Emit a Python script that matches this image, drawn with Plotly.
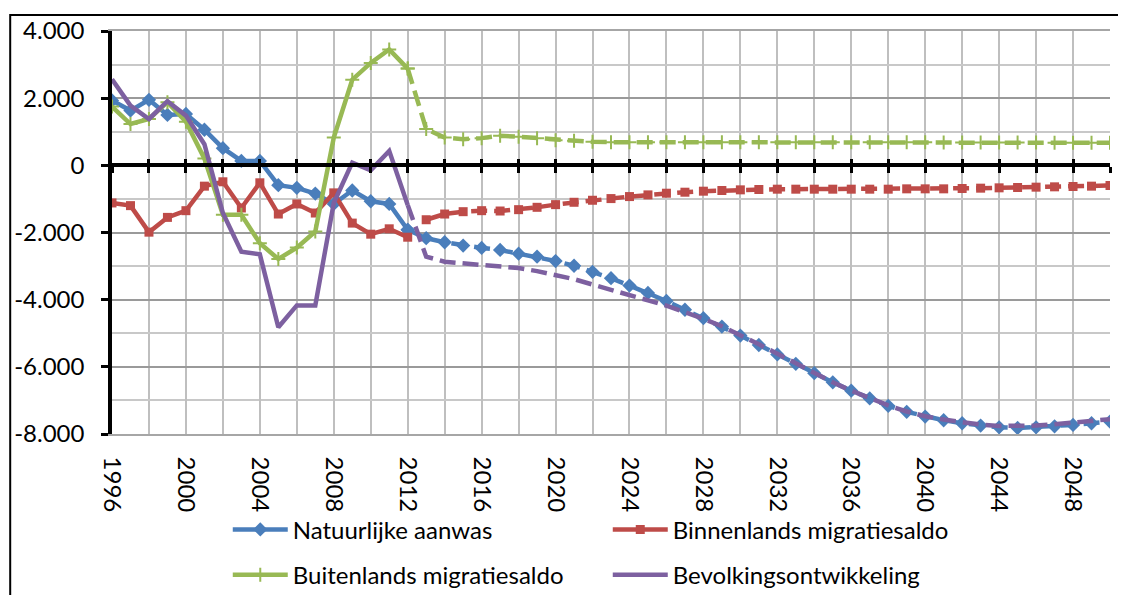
import plotly.graph_objects as go

# ---------------- data ----------------
hist_years = list(range(1996, 2013))
proj_years = list(range(2012, 2051))

natuurlijk_hist = [1930, 1630, 1950, 1500, 1530, 1060, 510, 130, 130, -590, -670, -840,
                   -1150, -750, -1070, -1150, -1920]
binnen_hist = [-1120, -1200, -1990, -1550, -1350, -620, -490, -1270, -520, -1450, -1150,
               -1420, -820, -1720, -2050, -1890, -2140]
buiten_hist = [1750, 1230, 1380, 1880, 1300, 200, -1470, -1470, -2320, -2790, -2450,
               -1970, 830, 2550, 3050, 3450, 2880]
bevolking_hist = [2560, 1780, 1380, 1910, 1480, 630, -1420, -2570, -2650, -4820, -4170,
                  -4170, -1120, 80, -150, 430, -1180]

natuurlijk_proj = [-1920, -2170, -2290, -2390, -2460, -2520, -2630, -2720, -2850, -2990,
                   -3170, -3360, -3580, -3800, -4040, -4300, -4550, -4800, -5070, -5350,
                   -5630, -5910, -6190, -6460, -6710, -6940, -7160, -7340, -7480, -7590,
                   -7680, -7750, -7800, -7820, -7800, -7770, -7730, -7680, -7630]
binnen_proj = [None, -1620, -1450, -1380, -1350, -1360, -1320, -1250, -1170, -1100,
               -1040, -990, -930, -880, -830, -800, -770, -750, -730, -720,
               -710, -710, -710, -710, -710, -710, -710, -700, -700, -700,
               -690, -680, -670, -660, -650, -640, -630, -620, -600]
buiten_proj = [2880, 1080, 830, 780, 810, 880, 850, 810, 750, 730,
               700, 690, 690, 690, 690, 690, 690, 690, 690, 690,
               690, 690, 690, 690, 690, 690, 690, 690, 690, 680,
               680, 680, 680, 680, 680, 670, 670, 670, 670]
bevolking_proj = [-1180, -2720, -2870, -2920, -2960, -3000, -3060, -3150, -3260, -3390,
                  -3550, -3700, -3840, -4020, -4180, -4370, -4570, -4790, -5050, -5330,
                  -5610, -5900, -6190, -6460, -6710, -6940, -7150, -7330, -7470, -7570,
                  -7650, -7720, -7760, -7770, -7750, -7710, -7660, -7600, -7560]

series_names = ["Natuurlijke aanwas", "Binnenlands migratiesaldo",
                "Buitenlands migratiesaldo", "Bevolkingsontwikkeling"]
x_tick_years = list(range(1996, 2050, 4))
y_tick_vals = [4000, 2000, 0, -2000, -4000, -6000, -8000]
y_tick_text = ["4.000", "2.000", "0", "-2.000", "-4.000", "-6.000", "-8.000"]

# ---------------- styling ----------------
BLUE = "#4A7EBB"
RED = "#BE4B48"
GREEN = "#98B954"
PURPLE = "#7D60A0"
FONT = "Lato"
FS = 24
LW = 4.5
DASH = "16px,7px"

fig = go.Figure()

specs = [
    (series_names[0], natuurlijk_hist, natuurlijk_proj, BLUE,
     dict(symbol="diamond", size=11, color=BLUE), "legend"),
    (series_names[1], binnen_hist, binnen_proj, RED,
     dict(symbol="square", size=9, color=RED), "legend"),
    (series_names[2], buiten_hist, buiten_proj, GREEN,
     dict(symbol="cross-thin", size=10, color=GREEN, line=dict(color=GREEN, width=2)), "legend2"),
    (series_names[3], bevolking_hist, bevolking_proj, PURPLE, None, "legend2"),
]

for name, h, p, col, mk, lg in specs:
    fig.add_trace(go.Scatter(
        x=proj_years, y=p, name=name, showlegend=False,
        mode="lines+markers" if mk else "lines",
        line=dict(color=col, width=LW, dash=DASH),
        marker=mk, connectgaps=False, hoverinfo="skip"))
for name, h, p, col, mk, lg in specs:
    fig.add_trace(go.Scatter(
        x=hist_years, y=h, name=name, legend=lg,
        mode="lines+markers" if mk else "lines",
        line=dict(color=col, width=LW),
        marker=mk))

leg_common = dict(orientation="h", x=0.116, xanchor="left", yref="container",
                  yanchor="middle", entrywidth=310, entrywidthmode="pixels", itemwidth=55,
                  font=dict(family=FONT, size=FS, color="black"),
                  bgcolor="rgba(0,0,0,0)", traceorder="normal")

# the page body has an 8px margin, so the figure is sized/placed to compensate
fig.update_layout(
    width=1118, height=587,
    margin=dict(l=104, r=16, t=23, b=161),
    paper_bgcolor="white", plot_bgcolor="white",
    font=dict(family=FONT, size=FS, color="black"),
    showlegend=True,
    legend=dict(y=0.111, **leg_common),
    legend2=dict(y=0.034, **leg_common),
    xaxis=dict(range=[1996, 2050], tickmode="array", tickvals=x_tick_years,
               ticktext=[str(v) for v in x_tick_years], tickangle=90,
               ticks="", showgrid=True, gridcolor="#BFBFBF", gridwidth=1.5,
               minor=dict(tickmode="linear", tick0=1996, dtick=2, showgrid=True,
                          gridcolor="#BFBFBF", gridwidth=1.5, ticks=""),
               showline=True, linecolor="#A6A6A6", linewidth=1.5, mirror=True,
               zeroline=False, ticklabelstandoff=16, automargin=False,
               tickfont=dict(family=FONT, size=FS, color="black")),
    xaxis2=dict(range=[1996, 2050], overlaying="x", anchor="free", position=2/3,
                showline=True, linecolor="black", linewidth=3.5,
                ticks="outside", ticklen=6, tickwidth=3, tickcolor="black",
                tickmode="linear", tick0=1996, dtick=2, automargin=False,
                showticklabels=False, showgrid=False, zeroline=False),
    xaxis3=dict(range=[1996, 2050], overlaying="x", anchor="free", position=2/3,
                showline=False, ticks="inside", ticklen=6, tickwidth=3, tickcolor="black",
                tickmode="linear", tick0=1996, dtick=2, automargin=False,
                showticklabels=False, showgrid=False, zeroline=False),
    yaxis=dict(range=[-8000, 4000], tickmode="array", tickvals=y_tick_vals,
               ticktext=y_tick_text, ticks="outside", ticklen=7, tickwidth=3,
               tickcolor="black", showline=True, linecolor="black", linewidth=3.5,
               showgrid=True, gridcolor="#9A9A9A", gridwidth=1.5, zeroline=False,
               minor=dict(tickmode="linear", tick0=0, dtick=1000, showgrid=True,
                          gridcolor="#C8C8C8", gridwidth=1.5, ticks=""),
               ticklabelstandoff=12, automargin=False,
               tickfont=dict(family=FONT, size=FS, color="black")),
)

# helper traces so the overlay axes are rendered
fig.add_trace(go.Scatter(x=[1996], y=[None], xaxis="x2", showlegend=False, hoverinfo="skip"))
fig.add_trace(go.Scatter(x=[1996], y=[None], xaxis="x3", showlegend=False, hoverinfo="skip"))

# chart-area border
fig.add_shape(type="rect", xref="paper", yref="paper",
              x0=-0.102, x1=1.2, y0=-0.6, y1=1.0397,
              line=dict(color="black", width=2), fillcolor="rgba(0,0,0,0)", layer="below")

fig.write_html("out.html")
